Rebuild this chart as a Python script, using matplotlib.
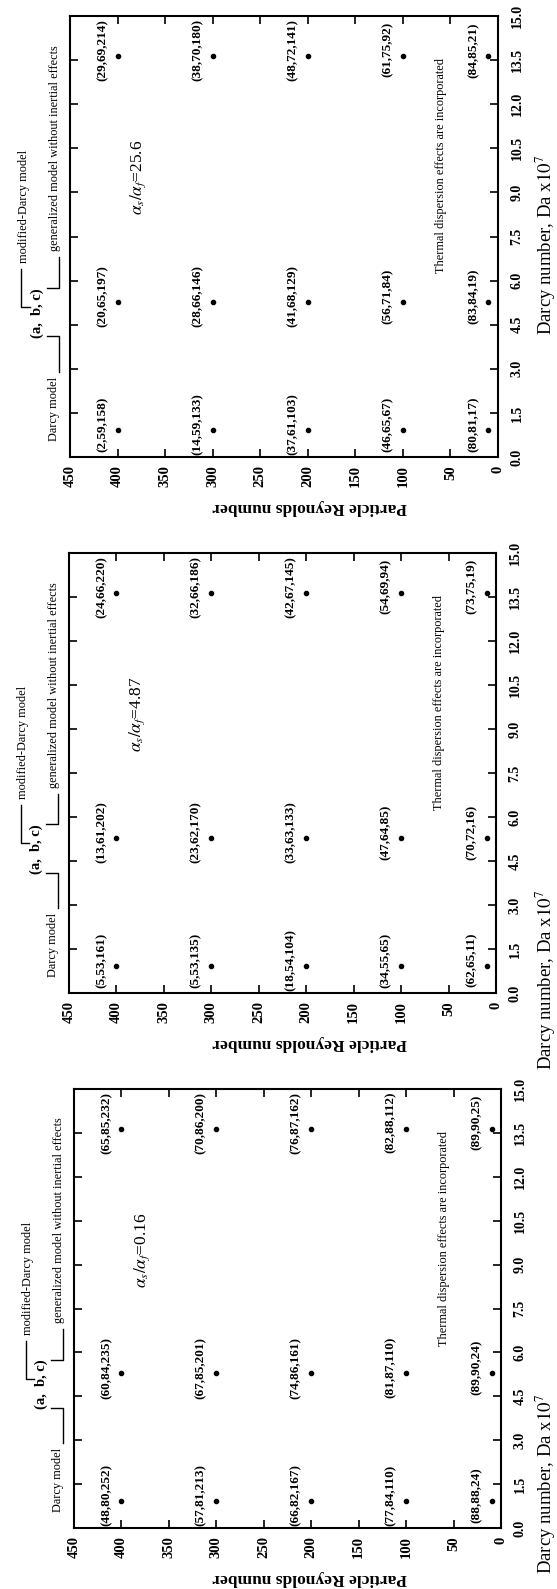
import numpy as np
import matplotlib
matplotlib.use('Agg')
import matplotlib.pyplot as plt

plt.rcParams['font.family'] = ['Liberation Serif', 'DejaVu Serif']
plt.rcParams['mathtext.fontset'] = 'stix'

# rows of points (particle Reynolds number) and columns (Darcy number x 1e7)
reynolds = [400, 300, 200, 100, 10]
darcy = [0.92, 5.28, 13.65]

ratios = ['25.6', '4.87', '0.16']

# label triplets (a, b, c), one list per row, columns follow `darcy`
labels_256 = [['(2,59,158)', '(20,65,197)', '(29,69,214)'],
              ['(14,59,133)', '(28,66,146)', '(38,70,180)'],
              ['(37,61,103)', '(41,68,129)', '(48,72,141)'],
              ['(46,65,67)', '(56,71,84)', '(61,75,92)'],
              ['(80,81,17)', '(83,84,19)', '(84,85,21)']]

labels_487 = [['(5,53,161)', '(13,61,202)', '(24,66,220)'],
              ['(5,53,135)', '(23,62,170)', '(32,66,186)'],
              ['(18,54,104)', '(33,63,133)', '(42,67,145)'],
              ['(34,55,65)', '(47,64,85)', '(54,69,94)'],
              ['(62,65,11)', '(70,72,16)', '(73,75,19)']]

labels_016 = [['(48,80,252)', '(60,84,235)', '(65,85,232)'],
              ['(57,81,213)', '(67,85,201)', '(70,86,200)'],
              ['(66,82,167)', '(74,86,161)', '(76,87,162)'],
              ['(77,84,110)', '(81,87,110)', '(82,88,112)'],
              ['(88,88,24)', '(89,90,24)', '(89,90,25)']]

re_ticks = list(range(0, 451, 50))
da_ticks = [0.0, 1.5, 3.0, 4.5, 6.0, 7.5, 9.0, 10.5, 12.0, 13.5, 15.0]

W, H = 557, 1589
fig = plt.figure(figsize=(W / 100, H / 100), dpi=100)

# panel boxes in pixels: left, top, right, bottom (page is turned sideways)
boxes = [(70, 16, 498, 457), (69, 553, 496, 993), (74, 1089, 501, 1528)]
all_labels = [labels_256, labels_487, labels_016]
# where the Darcy label sits along each frame (axes fraction)
da_label_pos = [0.48, 0.03, 0.1]


def panel(box, labels, ratio, lab_pos):
    l, t, r, b = box
    ax = fig.add_axes([l / W, 1 - b / H, (r - l) / W, (b - t) / H])
    ax.set_xlim(450, 0)
    ax.set_ylim(0, 15)

    # the points
    for i, re in enumerate(reynolds):
        ax.plot([re] * len(darcy), darcy, 'o', color='black',
                markersize=3.0, clip_on=False)
        for j, da in enumerate(darcy):
            ax.text(re + 16, da + 0.2, labels[i][j], rotation=90,
                    ha='center', va='center', fontsize=9.5,
                    fontweight='bold')

    ax.set_xticks(re_ticks)
    ax.set_xticklabels([str(v) for v in re_ticks])
    ax.set_yticks(da_ticks)
    ax.set_yticklabels(['%.1f' % v for v in da_ticks])
    ax.tick_params(direction='in', length=6, width=1.2, top=True,
                   right=True, left=True, bottom=True, labelleft=False,
                   labelright=True)
    ax.tick_params(axis='x', labelrotation=90, pad=6, labelsize=10.5)
    ax.tick_params(axis='y', labelrotation=90, pad=9, labelsize=10)
    for lab in ax.get_xticklabels() + ax.get_yticklabels():
        lab.set_fontweight('bold')
    for lab in ax.get_yticklabels():
        lab.set_va('center')
    for s in ax.spines.values():
        s.set_linewidth(1.5)

    ax.text((546 - l) / (r - l), lab_pos, 'Darcy number, Da x$10^7$',
            transform=ax.transAxes, rotation=90, ha='center', va='center',
            fontsize=13.5)
    ax.text((310 - l) / (r - l), -50 / (b - t), 'Particle Reynolds number',
            transform=ax.transAxes, rotation=180, ha='center', va='center',
            fontsize=12.5, fontweight='bold')

    ax.text(378, 9.5, r'$\alpha_s/\alpha_f$=' + ratio, rotation=90,
            ha='center', va='center', fontsize=12.5)
    ax.text(60, 9.9, 'Thermal dispersion effects are incorporated',
            rotation=90, ha='center', va='center', fontsize=8.8)

    # model key above the frame
    kw = dict(color='black', lw=1.0, clip_on=False)
    ax.text(467, 1.65, 'Darcy model', rotation=90, ha='center',
            va='center', fontsize=8.8, clip_on=False)
    ax.plot([462, 462, 474], [2.9, 4.1, 4.1], **kw)
    ax.text(484, 4.9, '(a,  b, c)', rotation=90, ha='center', va='center',
            fontsize=10.5, fontweight='bold', clip_on=False)
    ax.plot([474, 462, 462], [5.75, 5.75, 6.8], **kw)
    ax.text(466, 7.0, 'generalized model without inertial effects',
            rotation=90, ha='center', va='bottom', fontsize=8.8,
            clip_on=False)
    ax.plot([492, 501, 501], [5.1, 5.1, 6.4], **kw)
    ax.text(498, 6.6, 'modified-Darcy model', rotation=90, ha='center',
            va='bottom', fontsize=8.8, clip_on=False)
    return ax


for box, labels, ratio, pos in zip(boxes, all_labels, ratios, da_label_pos):
    panel(box, labels, ratio, pos)

fig.savefig('out.png', dpi=100)
plt.close()
